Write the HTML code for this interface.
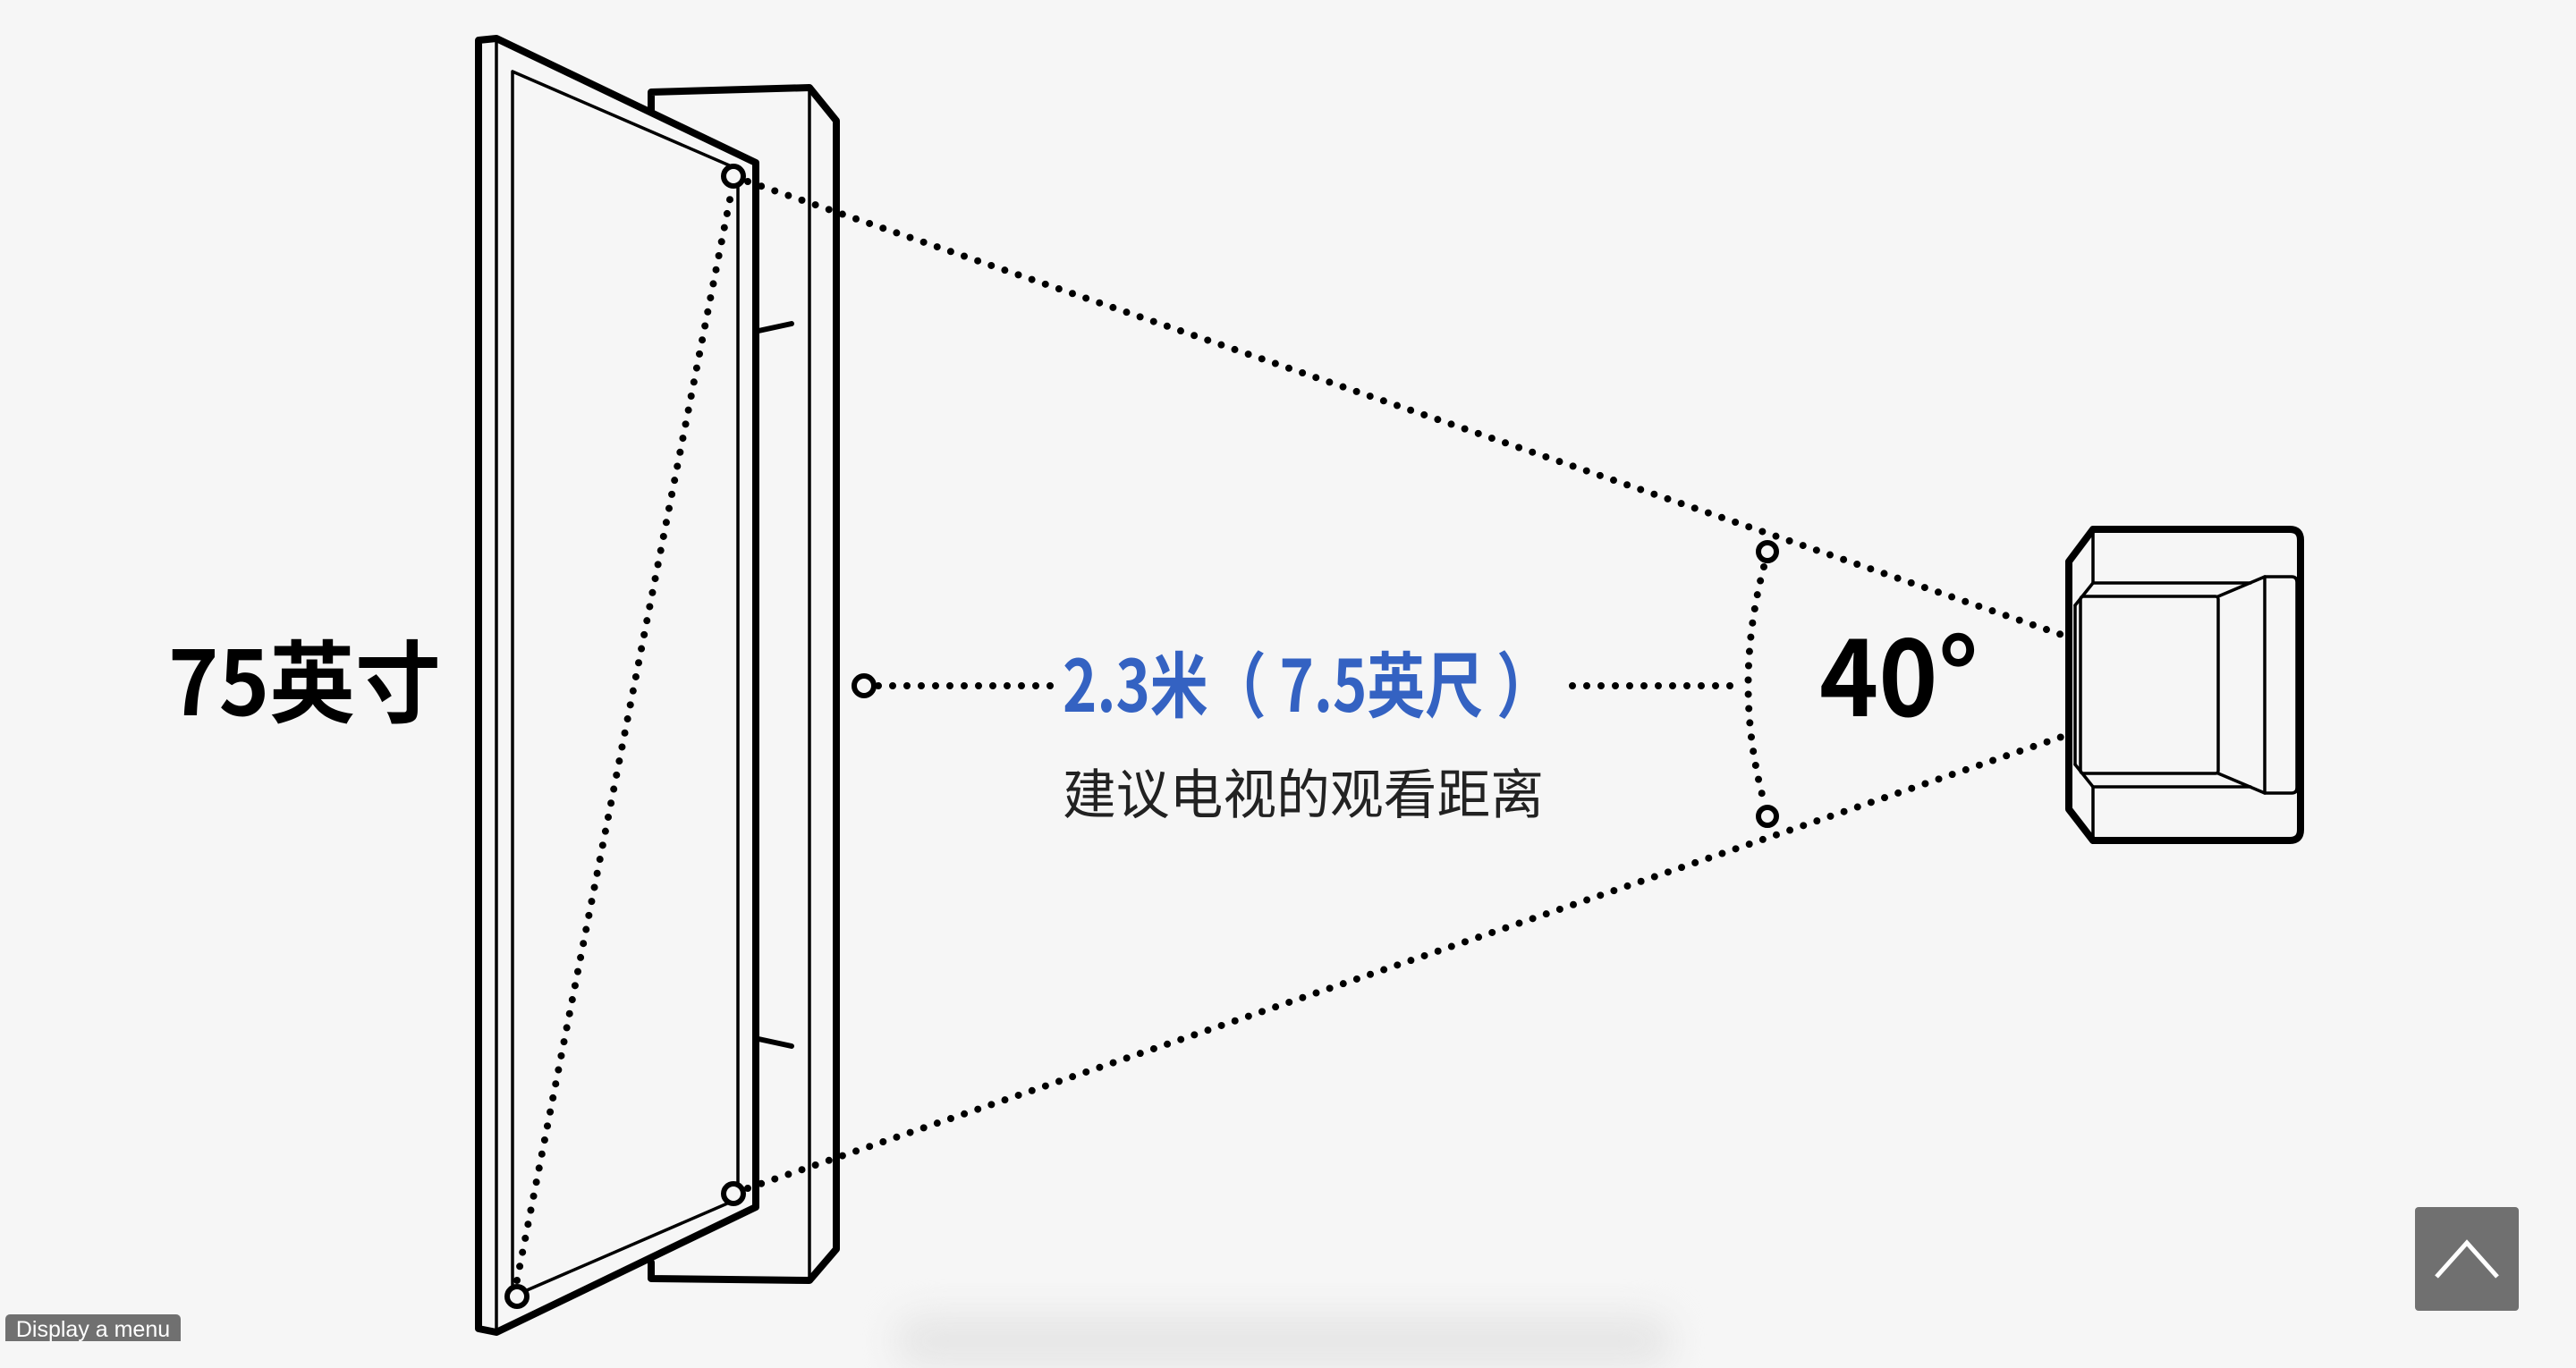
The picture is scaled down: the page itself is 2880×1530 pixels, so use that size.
<!DOCTYPE html>
<html><head><meta charset="utf-8"><style>
html,body{margin:0;padding:0;background:#f6f6f6;}
body{width:2880px;height:1500px;overflow:hidden;position:relative;}
svg{position:absolute;left:0;top:0;}
.btn{position:absolute;left:2700px;top:1350px;width:116px;height:116px;background:#707070;border-radius:4px;}
.menu{position:absolute;left:6px;top:1470px;width:196px;height:30px;background:#707070;border-radius:5px 5px 0 0;color:#fff;font:25px "Liberation Sans",sans-serif;line-height:34px;text-align:center;}
.shadow{position:absolute;left:1000px;top:1470px;width:870px;height:60px;border-radius:30px;background:#e6e6e6;filter:blur(20px);}
</style></head><body>
<div class="shadow"></div>
<svg width="2880" height="1500" viewBox="0 0 2880 1500" xmlns="http://www.w3.org/2000/svg">
<g fill="none" stroke="#000" stroke-linejoin="round" stroke-linecap="round">
  <polyline points="728,126 728,103 905,98 935,135 935,1397 905,1432 728,1430 728,1412" stroke-width="8"/>
  <line x1="905" y1="100" x2="905" y2="1430" stroke-width="3.5"/>
  <line x1="848" y1="370" x2="885" y2="362" stroke-width="6"/>
  <line x1="848" y1="1162" x2="885" y2="1170" stroke-width="6"/>
  <path d="M555,43 L845,182 L845,1350 L555,1490 L535,1486 L535,45 Z" fill="#f6f6f6" stroke-width="8"/>
  <line x1="555" y1="43" x2="555" y2="1490" stroke-width="3.5"/>
  <polyline points="820,187 573,80 573,1450 820,1343" stroke-width="3.5"/>
  <line x1="825" y1="207" x2="825" y2="1325" stroke-width="3.5"/>
  <g stroke-width="8" stroke-dasharray="0 16">
    <line x1="578" y1="1432" x2="818" y2="213"/>
    <line x1="836" y1="203" x2="2311" y2="712"/>
    <line x1="836" y1="1329" x2="2311" y2="822"/>
    <line x1="982" y1="767" x2="1175" y2="767"/>
    <line x1="1758" y1="767" x2="1950" y2="767"/>
    <path d="M1972,634 Q1937,767 1972,896"/>
  </g>
  <g stroke-width="6" fill="#f6f6f6">
    <circle cx="820" cy="197" r="11"/>
    <circle cx="820" cy="1335" r="11"/>
    <circle cx="578" cy="1450" r="11"/>
    <circle cx="966" cy="767" r="11"/>
    <circle cx="1976" cy="617" r="10"/>
    <circle cx="1976" cy="913" r="10"/>
  </g>
  <path d="M2340,592 L2560,592 Q2572,592 2572,604 L2572,928 Q2572,940 2560,940 L2340,940 L2313,905 L2313,628 Z" stroke-width="8"/>
  <g stroke-width="3.5">
    <line x1="2340" y1="596" x2="2340" y2="652"/>
    <line x1="2340" y1="652" x2="2516" y2="652"/>
    <line x1="2340" y1="652" x2="2320" y2="677"/>
    <line x1="2320" y1="677" x2="2320" y2="855"/>
    <line x1="2320" y1="855" x2="2340" y2="880"/>
    <line x1="2340" y1="880" x2="2516" y2="880"/>
    <line x1="2340" y1="880" x2="2340" y2="936"/>
    <rect x="2326" y="667" width="154" height="198" rx="3"/>
    <line x1="2480" y1="667" x2="2532" y2="645"/>
    <line x1="2480" y1="865" x2="2532" y2="887"/>
    <path d="M2532,645 L2532,887 L2562,887 Q2568,887 2568,881 L2568,651 Q2568,645 2562,645 Z"/>
  </g>
</g>
<g>
  <text x="188" y="800" font-family="'Noto Sans CJK SC','Liberation Sans',sans-serif" font-size="100" font-weight="bold" fill="#000" textLength="305" lengthAdjust="spacingAndGlyphs">75英寸</text>
  <text x="2034" y="801" font-family="'Noto Sans CJK SC','Liberation Sans',sans-serif" font-size="120" font-weight="bold" fill="#000" textLength="178" lengthAdjust="spacingAndGlyphs">40°</text>
  <text x="1188" y="796" font-family="'Noto Sans CJK SC','Liberation Sans',sans-serif" font-size="80" font-weight="bold" fill="#3462c2" textLength="550" lengthAdjust="spacingAndGlyphs">2.3米（ 7.5英尺 ）</text>
  <text x="1188" y="910" font-family="'Noto Sans CJK SC','Liberation Sans',sans-serif" font-size="60" fill="#222" textLength="538" lengthAdjust="spacingAndGlyphs">建议电视的观看距离</text>
</g>
</svg>
<div class="btn"><svg width="116" height="116" viewBox="0 0 116 116"><polyline points="24,78 58,40 92,78" fill="none" stroke="#fff" stroke-width="5"/></svg></div>
<div class="menu">Display a menu</div>
</body></html>
